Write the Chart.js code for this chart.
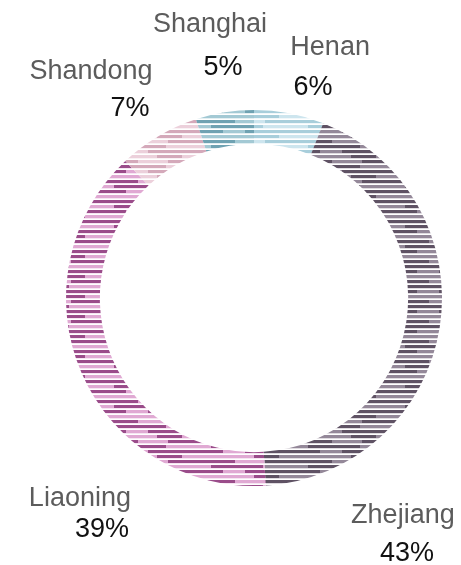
<!DOCTYPE html>
<html>
<head>
<meta charset="utf-8">
<script src="https://cdn.jsdelivr.net/npm/chart.js@4.4.1/dist/chart.umd.min.js"></script>
<style>
  html, body { margin: 0; padding: 0; background: #ffffff; }
  #wrap { width: 461px; height: 565px; }
</style>
</head>
<body>
<div id="wrap"><canvas id="ring" width="461" height="565"></canvas></div>
<script>
// Provinces, clockwise from 12 o'clock
const provinces = ['Henan', 'Zhejiang', 'Liaoning', 'Shandong', 'Shanghai'];
const shares = [6, 43, 39, 7, 5];

// Two stroke tones per slice for the ruled fill
const toneDark  = ['#a8cedb', '#5f5264', '#9a4c8a', '#d4a9ba', '#6fa2b2'];
const toneLight = ['#cde5ee', '#948899', '#e0a9d3', '#ecd0db', '#a3c9d4'];

// Where each caption sits, as offsets from the ring centre in units of the outer radius
const nameSpots = [[0.405, -1.295], [0.792, 1.197], [-0.926, 1.104], [-0.867, -1.163], [-0.234, -1.415]];
const pctSpots  = [[0.314, -1.080], [0.814, 1.399], [-0.809, 1.272], [-0.660, -0.968], [-0.165, -1.186]];

// Stroke layout of one tile of the ruled texture: per row, [start, length, tone] pieces
const rows = [
  [[0, 41, 0], [41, 30, 1], [71, 26, 0]],
  [[0, 17, 1], [17, 52, 0], [69, 28, 1]],
  [[0, 29, 0], [29, 22, 1], [51, 46, 0]],
  [[0, 60, 1], [60, 25, 0], [85, 12, 1]]
];

// Horizontal ruled texture: strokes of two tones separated by thin white gaps
function ruled(dark, light) {
  const c = document.createElement('canvas');
  c.width = 97; c.height = 20;
  const g = c.getContext('2d');
  g.fillStyle = '#ffffff';
  g.fillRect(0, 0, c.width, c.height);
  rows.forEach((pieces, k) => {
    pieces.forEach(([x0, len, t]) => {
      g.fillStyle = t ? light : dark;
      g.fillRect(x0, k * 5, len, 3);
    });
    g.globalAlpha = 0.3;
    g.fillStyle = light;
    g.fillRect(0, k * 5 + 3, c.width, 1);
    g.globalAlpha = 1;
  });
  return g.createPattern(c, 'repeat');
}

const captions = {
  id: 'captions',
  afterDatasetsDraw(chart) {
    const arc = chart.getDatasetMeta(0).data[0];
    const cx = arc.x, cy = arc.y, r = arc.outerRadius;
    const ctx = chart.ctx;
    const total = shares.reduce((a, b) => a + b, 0);
    ctx.save();
    ctx.textAlign = 'center';
    ctx.textBaseline = 'alphabetic';
    ctx.font = '27px "Liberation Sans", Arial, sans-serif';
    provinces.forEach((name, i) => {
      ctx.fillStyle = '#5c5c5c';
      ctx.fillText(name, cx + nameSpots[i][0] * r, cy + nameSpots[i][1] * r);
      ctx.fillStyle = '#111111';
      const pct = Math.round(shares[i] / total * 100) + '%';
      ctx.fillText(pct, cx + pctSpots[i][0] * r, cy + pctSpots[i][1] * r);
    });
    ctx.restore();
  }
};

new Chart(document.getElementById('ring'), {
  type: 'doughnut',
  data: {
    labels: provinces,
    datasets: [{
      data: shares,
      backgroundColor: provinces.map((_, i) => ruled(toneDark[i], toneLight[i])),
      borderWidth: 0
    }]
  },
  options: {
    responsive: false,
    devicePixelRatio: 1,
    animation: false,
    cutout: '82%',
    rotation: 0,
    layout: { padding: { left: 66, right: 19, top: 110, bottom: 79 } },
    plugins: {
      legend: { display: false },
      tooltip: { enabled: false }
    }
  },
  plugins: [captions]
});
</script>
</body>
</html>
